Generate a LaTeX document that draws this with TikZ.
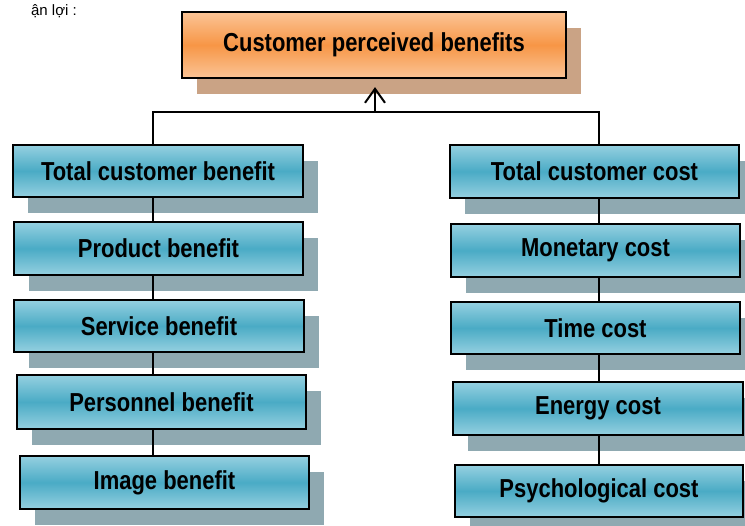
\documentclass[tikz,border=0pt]{standalone}
\usepackage{fontspec}
\setmainfont{Liberation Sans}
\newfontfamily\boxfont{Liberation Sans}[FakeStretch=0.845]
\usetikzlibrary{shadows,arrows.meta}
\definecolor{bluetop}{HTML}{95D0E0}
\definecolor{bluemid}{HTML}{4AABC5}
\definecolor{blueshadow}{HTML}{8FA9B1}
\definecolor{orangetop}{HTML}{FBC496}
\definecolor{orangemid}{HTML}{F79646}
\definecolor{orangeshadow}{HTML}{CAA385}
\tikzset{
  boxbase/.style={draw=black, line width=2.2pt, inner sep=0pt,
    font=\boxfont\bfseries\fontsize{26}{30}\selectfont},
  bluebox/.style={boxbase, top color=bluetop, bottom color=bluetop, middle color=bluemid,
    drop shadow={shadow xshift=15pt, shadow yshift=-16pt, opacity=1, fill=blueshadow, draw=none}},
  orangebox/.style={boxbase, top color=orangetop, bottom color=orangetop, middle color=orangemid,
    drop shadow={shadow xshift=15pt, shadow yshift=-16pt, opacity=1, fill=orangeshadow, draw=none}},
  conn/.style={draw=black, line width=2pt},
}
\begin{document}
\begin{tikzpicture}[x=1pt,y=-1pt]
\useasboundingbox (0,0) rectangle (745,526);
\begin{scope}
\clip (0,0) rectangle (745,526);
\node[anchor=base east, inner sep=0pt, font=\fontsize{15}{17}\selectfont] (frag) at (77,16) {ận lợi :};

\node[orangebox, minimum width=384pt, minimum height=66pt] (top) at (374,45) {Customer perceived benefits};

\node[bluebox, minimum width=290pt, minimum height=52pt] (b1) at (158,171) {Total customer benefit};
\node[bluebox, minimum width=289pt, minimum height=53pt] (b2) at (158.5,248.5) {Product benefit};
\node[bluebox, minimum width=290pt, minimum height=52pt] (b3) at (159,326) {Service benefit};
\node[bluebox, minimum width=289pt, minimum height=54pt] (b4) at (161.5,402) {Personnel benefit};
\node[bluebox, minimum width=289pt, minimum height=53pt] (b5) at (164.5,482.5) {Image benefit};

\node[bluebox, minimum width=289pt, minimum height=53pt] (r1) at (594.5,171.5) {Total customer cost};
\node[bluebox, minimum width=289pt, minimum height=53pt] (r2) at (595.5,250.5) {Monetary cost};
\node[bluebox, minimum width=289pt, minimum height=52pt] (r3) at (595.5,328) {Time cost};
\node[bluebox, minimum width=290pt, minimum height=53pt] (r4) at (598,408.5) {Energy cost};
\node[bluebox, minimum width=288pt, minimum height=52pt] (r5) at (599,491) {Psychological cost};

\coordinate (lx) at (153,112);
\coordinate (rx) at (599,112);
\coordinate (ta) at (375,112);

\draw[conn] (lx |- b1.north) -- (lx) -- (rx) -- (rx |- r1.north);
\draw[conn, -{Straight Barb[length=14pt,width=20pt]}, shorten >=8pt] (ta) -- (ta |- top.south);

\draw[conn] (b1.south -| lx) -- (b2.north -| lx);
\draw[conn] (b2.south -| lx) -- (b3.north -| lx);
\draw[conn] (b3.south -| lx) -- (b4.north -| lx);
\draw[conn] (b4.south -| lx) -- (b5.north -| lx);

\draw[conn] (r1.south -| rx) -- (r2.north -| rx);
\draw[conn] (r2.south -| rx) -- (r3.north -| rx);
\draw[conn] (r3.south -| rx) -- (r4.north -| rx);
\draw[conn] (r4.south -| rx) -- (r5.north -| rx);
\end{scope}
\end{tikzpicture}
\end{document}
